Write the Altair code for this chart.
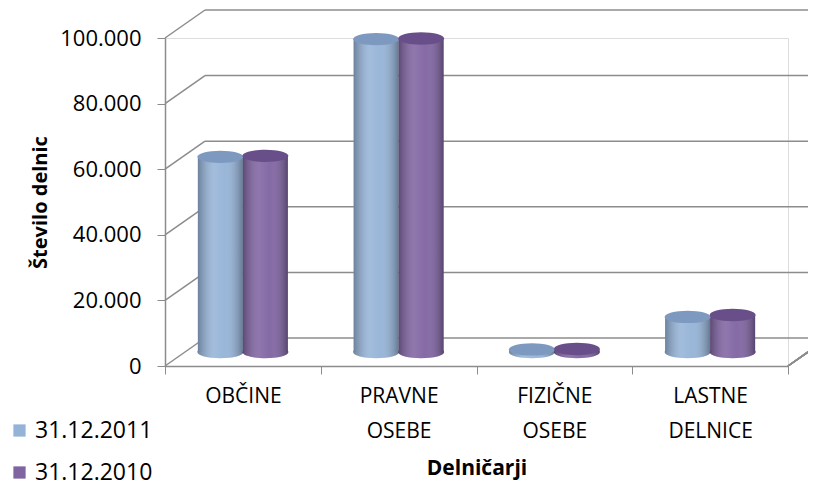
import altair as alt
import pandas as pd

categories = ["OBČINE", "PRAVNE OSEBE", "FIZIČNE OSEBE", "LASTNE DELNICE"]
series = ["31.12.2011", "31.12.2010"]
v2011 = [59500, 95400, 800, 10700]
v2010 = [59800, 95600, 900, 11300]
ticks = [0, 20000, 40000, 60000, 80000, 100000]

side_colors = ["#95B3D7", "#8064A2"]
top_colors = ["#7E99BF", "#694F8A"]

rows = []
for i, c in enumerate(categories):
    for s, vals, sc, tc in zip(series, [v2011, v2010], side_colors, top_colors):
        rows.append({"cat": c, "series": s, "value": vals[i], "side": sc, "top": tc})
df = pd.DataFrame(rows)
grid = pd.DataFrame({"t": ticks})

W, H = 623, 328
DX, DY = 40, -28      # depth of the 3D box
BX, BY = 20, -14      # bars sit in the middle of the floor
FONT = "Open Sans"
GRID = "#8C8C8C"

yscale = alt.Scale(domain=[0, 100000], nice=False, zero=True)
xscale = alt.Scale(domain=categories, paddingInner=0, paddingOuter=0)
offscale = alt.Scale(domain=series, paddingInner=0, paddingOuter=0.73)

xaxis = alt.Axis(title="Delničarji", labelAngle=0, tickBand="extent",
                 labelExpr="split(datum.label, ' ')",
                 labelFont=FONT, labelFontSize=21, labelColor="#000000",
                 labelLineHeight=35, labelPadding=11, labelBaseline="top",
                 tickSize=8, tickColor=GRID, domainColor=GRID, domainWidth=1.5,
                 titleFont=FONT, titleFontSize=21, titleFontWeight="bold",
                 titleColor="#000000", titlePadding=16, grid=False)
yaxis = alt.Axis(title="Število delnic", values=ticks, grid=False,
                 labelExpr="replace(format(datum.value, ','), ',', '.')",
                 labelFont=FONT, labelFontSize=22, labelColor="#000000",
                 labelPadding=16, tickSize=8, tickColor=GRID,
                 domainColor=GRID, domainWidth=1.5,
                 titleFont=FONT, titleFontSize=20, titleFontWeight="bold",
                 titleColor="#000000", titlePadding=9)

ell = "M-1,0 A1,0.27 0 1,1 1,0 A1,0.27 0 1,1 -1,0 Z"
shade = {
    "gradient": "linear", "x1": 0, "x2": 1, "y1": 0, "y2": 0,
    "stops": [
        {"offset": 0, "color": "rgba(0,0,0,0.28)"},
        {"offset": 0.35, "color": "rgba(255,255,255,0.12)"},
        {"offset": 0.6, "color": "rgba(255,255,255,0.04)"},
        {"offset": 1, "color": "rgba(0,0,0,0.32)"},
    ],
}

X = alt.X("cat:N", scale=xscale, sort=categories, axis=xaxis)
OFF = alt.XOffset("series:N", scale=offscale, sort=series)

back_lines = alt.Chart(grid).mark_rule(color=GRID, strokeWidth=1.5, yOffset=DY).encode(
    x=alt.value(DX), x2=alt.value(W + DX),
    y=alt.Y("t:Q", scale=yscale, axis=yaxis),
)
diag_lines = alt.Chart(grid).mark_rule(color=GRID, strokeWidth=1.5, y2Offset=DY).encode(
    x=alt.value(0), x2=alt.value(DX),
    y=alt.Y("t:Q", scale=yscale, axis=yaxis), y2="t:Q",
)
right_diag = alt.Chart(grid).mark_rule(color=GRID, strokeWidth=1.5, y2Offset=DY).encode(
    x=alt.value(W), x2=alt.value(W + DX),
    y=alt.datum(0, scale=yscale, axis=yaxis), y2=alt.datum(0),
)

base = alt.Chart(df)
Y = alt.Y("value:Q", scale=yscale, axis=yaxis)

bottoms = base.mark_point(shape=ell, size=46 * 46, filled=True, opacity=1,
                          xOffset=BX, yOffset=BY, strokeWidth=0).encode(
    x=X, xOffset=OFF, y=alt.datum(0, scale=yscale, axis=yaxis),
    fill=alt.Fill("side:N", scale=None),
)
bottoms_shade = base.mark_point(shape=ell, size=46 * 46, filled=True, opacity=1,
                                fill=shade, xOffset=BX, yOffset=BY, strokeWidth=0).encode(
    x=X, xOffset=OFF, y=alt.datum(0, scale=yscale, axis=yaxis),
)
bars = base.mark_bar(xOffset=BX, x2Offset=BX, yOffset=BY, y2Offset=BY, opacity=1).encode(
    x=X, xOffset=OFF, y=Y,
    color=alt.Color("series:N", sort=series,
                    scale=alt.Scale(domain=series, range=side_colors),
                    legend=alt.Legend(title=None, orient="none", legendX=-157, legendY=381,
                                      symbolType="square", symbolSize=150, symbolStrokeWidth=0,
                                      labelFont=FONT, labelFontSize=23, labelColor="#000000",
                                      rowPadding=18, labelOffset=4)),
)
bars_shade = base.mark_bar(xOffset=BX, x2Offset=BX, yOffset=BY, y2Offset=BY,
                           fill=shade).encode(
    x=X, xOffset=OFF, y=Y,
)
tops = base.mark_point(shape=ell, size=46 * 46, filled=True, opacity=1,
                       xOffset=BX, yOffset=BY, strokeWidth=0).encode(
    x=X, xOffset=OFF, y=Y,
    fill=alt.Fill("top:N", scale=None),
)

chart = alt.layer(
    back_lines, diag_lines, right_diag, bottoms, bottoms_shade, bars, bars_shade, tops
).properties(
    width=W, height=H,
    autosize=alt.AutoSizeParams(type="none"),
    padding={"left": 157, "top": 30, "right": 20, "bottom": 135},
).configure_view(stroke="transparent", strokeWidth=0).configure(background="white")

chart.save("out.html", embed_options={"renderer": "svg", "actions": False})
